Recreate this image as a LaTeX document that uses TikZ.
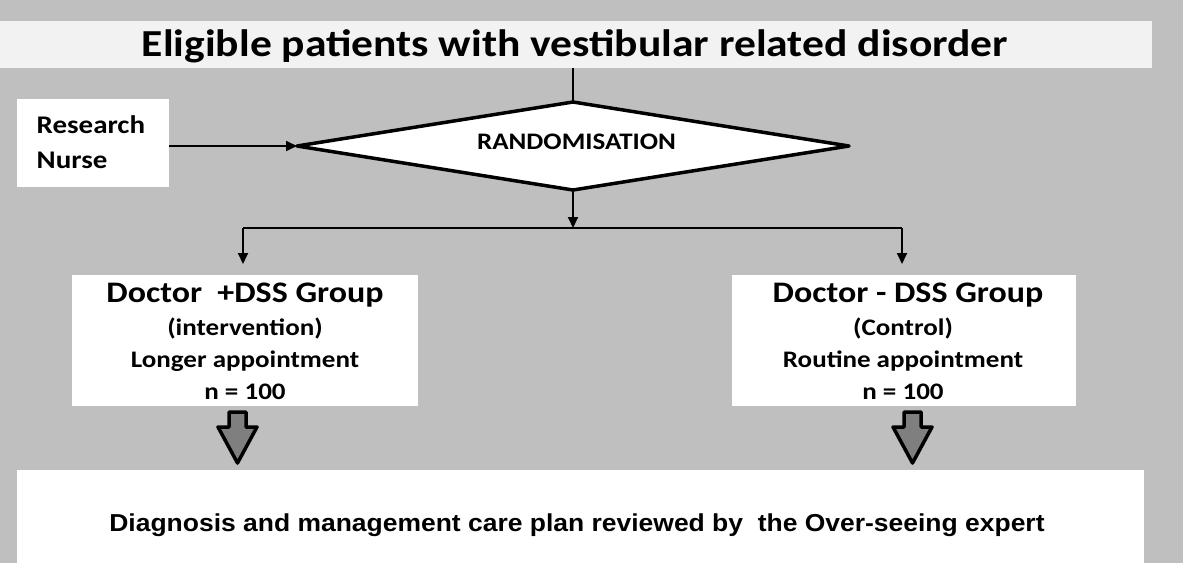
\documentclass[tikz,border=0pt]{standalone}
\usepackage{fontspec}
\setmainfont[FakeStretch=1.14]{Carlito}
\newfontfamily\arialfont[FakeStretch=1.08]{Liberation Sans}
\usetikzlibrary{shapes.geometric,arrows.meta}
\definecolor{bggray}{HTML}{BFBFBF}
\definecolor{stripgray}{HTML}{F2F2F2}
\definecolor{arrowgray}{HTML}{7F7F7F}
\begin{document}
\begin{tikzpicture}[x=1pt,y=-1pt,
  whitebox/.style={fill=white,draw=none,inner sep=0pt,outer sep=0pt},
  conn/.style={draw=black,line width=1.8pt},
  tip/.style={-{Triangle[length=11pt,width=10pt]}},
  bigline/.style={font=\fontsize{29.8}{32}\selectfont\bfseries,anchor=base,inner sep=0pt},
  smallline/.style={font=\fontsize{23.7}{26}\selectfont\bfseries,anchor=base,inner sep=0pt},
  blockarrow/.style={draw=black,fill=arrowgray,line width=3.5pt,line join=round}]
\useasboundingbox (0,0) rectangle (1183,563);
\fill[bggray] (0,0) rectangle (1183,563);
% title strip
\node[whitebox,fill=stripgray,minimum width=1152pt,minimum height=47pt,anchor=north west] (title) at (0,21) {};
\node[font=\fontsize{38.2}{40}\selectfont\bfseries,anchor=base,inner sep=0pt] (titletext) at (575,56) {Eligible patients with vestibular related disorder};
% research nurse
\node[whitebox,minimum width=152pt,minimum height=88pt,anchor=north west] (nurse) at (17,99) {};
\node[font=\fontsize{25.4}{35}\selectfont\bfseries,anchor=base west,inner sep=0pt] (nurse1) at (36.5,133) {Research};
\node[font=\fontsize{25.4}{35}\selectfont\bfseries,anchor=base west,inner sep=0pt] (nurse2) at (36.5,168) {Nurse};
% diamond
\coordinate (dtop) at (573,102);
\coordinate (dbot) at (573,190);
\coordinate (dleft) at (297,146);
\coordinate (dright) at (849,146);
\draw[line width=3.5pt,fill=white,line join=round] (dtop) -- (dright) -- (dbot) -- (dleft) -- cycle;
\node[font=\fontsize{23.7}{26}\selectfont\bfseries,anchor=base,inner sep=0pt] (rand) at (576.5,149) {RANDOMISATION};
% group boxes
\node[whitebox,minimum width=346pt,minimum height=131pt,anchor=north west] (left) at (72,275) {};
\node[whitebox,minimum width=344pt,minimum height=131pt,anchor=north west] (right) at (732,275) {};
\node[bigline] (l1) at (245,302) {Doctor\ \ +DSS Group};
\node[smallline] (l2) at (245,335) {(intervention)};
\node[smallline] (l3) at (245,367) {Longer appointment};
\node[smallline] (l4) at (245,399) {n = 100};
\node[bigline] (r1) at (908,302) {Doctor - DSS Group};
\node[smallline] (r2) at (903,335) {(Control)};
\node[smallline] (r3) at (903,367) {Routine appointment};
\node[smallline] (r4) at (903,399) {n = 100};
% bottom box
\node[whitebox,minimum width=1127pt,minimum height=95pt,anchor=north west] (bottom) at (17,470) {};
\node[font=\arialfont\fontsize{24.5}{26}\selectfont\bfseries,anchor=base,inner sep=0pt] (btext) at (577,531) {Diagnosis and management care plan reviewed by\ \ the Over-seeing expert};
% connectors
\draw[conn] (title.south -| dtop) -- (dtop);
\draw[conn,tip] (nurse.east |- dleft) -- (dleft);
\coordinate (junc) at (573,228);
\coordinate (jl) at (243,228);
\coordinate (jr) at (902,228);
\draw[conn,tip] (dbot) -- (junc);
\draw[conn] (jl) -- (jr);
\draw[conn,tip] (jl) -- (243,264);
\draw[conn,tip] (jr) -- (902,264);
% block arrows
\draw[blockarrow] (229,412) -- (246,412) -- (246,427) -- (257,427) -- (237.5,463) -- (218,427) -- (229,427) -- cycle;
\draw[blockarrow] (904,412) -- (921,412) -- (921,427) -- (932,427) -- (912.5,463) -- (893,427) -- (904,427) -- cycle;
\end{tikzpicture}
\end{document}
